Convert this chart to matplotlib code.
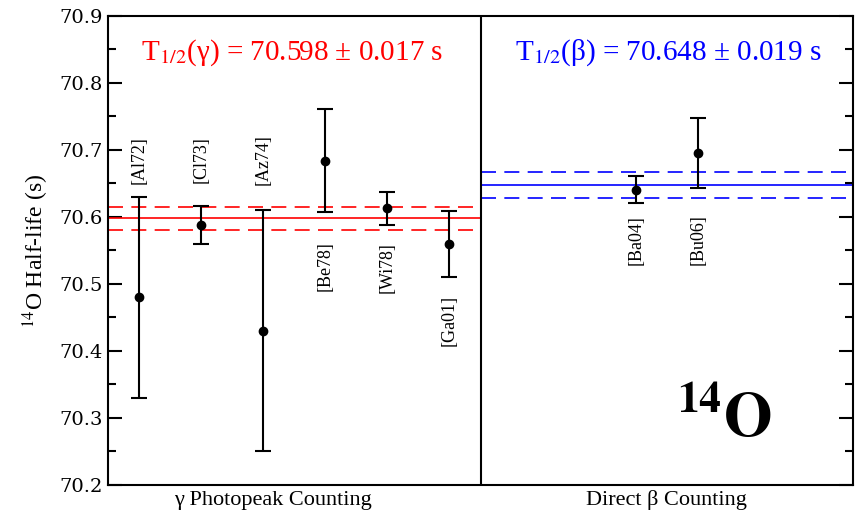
import matplotlib
matplotlib.use("Agg")
import matplotlib.pyplot as plt
from matplotlib.ticker import MultipleLocator

plt.rcParams["mathtext.fontset"] = "stix"

# measurements: label, value, error, label position (y), group
labels = ["[Al72]", "[Cl73]", "[Az74]", "[Be78]", "[Wi78]", "[Ga01]", "[Ba04]", "[Bu06]"]
xpos = [0.5, 1.5, 2.5, 3.5, 4.5, 5.5, 8.5, 9.5]
values = [70.48, 70.588, 70.43, 70.684, 70.613, 70.560, 70.641, 70.696]
errors = [0.15, 0.028, 0.18, 0.077, 0.025, 0.049, 0.020, 0.052]
label_y = [70.685, 70.685, 70.685, 70.527, 70.524, 70.446, 70.566, 70.566]

gamma_avg, gamma_err = 70.598, 0.017
beta_avg, beta_err = 70.648, 0.019

serif = "Liberation Serif"

fig = plt.figure(figsize=(8.55, 5.11), dpi=100)
ax = fig.add_axes([0.1263, 0.0509, 0.8714, 0.9178])

# weighted averages
ax.plot([0, 6], [gamma_avg]*2, color="red", lw=1.2)
for s in (-1, 1):
    ax.plot([0, 6], [gamma_avg + s*gamma_err]*2, color="red", lw=1.2, dashes=(9, 5))
ax.plot([6, 12], [beta_avg]*2, color="blue", lw=1.2)
for s in (-1, 1):
    ax.plot([6, 12], [beta_avg + s*beta_err]*2, color="blue", lw=1.2, dashes=(9, 5))

ax.errorbar(xpos, values, yerr=errors, fmt="o", color="black", ms=6,
            elinewidth=1.5, capsize=5.5, capthick=1.5, zorder=5)

for x, yl, lab in zip(xpos, label_y, labels):
    ax.text(x, yl, lab, rotation=90, ha="center", va="center",
            fontsize=13, family=serif)

ax.axvline(6, color="black", lw=1.5)

ax.text(2.97, 70.846, "T$_{1/2}$(γ) = 70.598 ± 0.017 s", color="red",
        ha="center", va="center", fontsize=21, family=serif)
ax.text(9.03, 70.846, "T$_{1/2}$(β) = 70.648 ± 0.019 s", color="blue",
        ha="center", va="center", fontsize=21, family=serif)
ax.text(9.92, 70.296, r"$\mathbf{^{14}O}$", ha="center", va="center",
        fontsize=45, fontweight="bold", family=serif)

ax.text(2.66, 70.177, "γ Photopeak Counting", ha="center", va="center",
        fontsize=16, family=serif)
ax.text(9.0, 70.177, "Direct β Counting", ha="center", va="center",
        fontsize=16, family=serif)

ax.set_xlim(0, 12)
ax.set_ylim(70.2, 70.9)
ax.set_xticks([])
ax.yaxis.set_major_locator(MultipleLocator(0.1))
ax.yaxis.set_minor_locator(MultipleLocator(0.05))
ax.tick_params(axis="y", which="major", direction="in", length=10, width=1.5,
               left=True, right=True, labelsize=14)
ax.tick_params(axis="y", which="minor", direction="in", length=6, width=1.5,
               left=True, right=True)
for lab in ax.get_yticklabels():
    lab.set_family("DejaVu Serif")
ax.set_ylabel("$^{14}$O Half-life (s)", fontsize=17, family=serif, labelpad=6)
for sp in ax.spines.values():
    sp.set_linewidth(1.5)

fig.savefig("out.png", dpi=100)
